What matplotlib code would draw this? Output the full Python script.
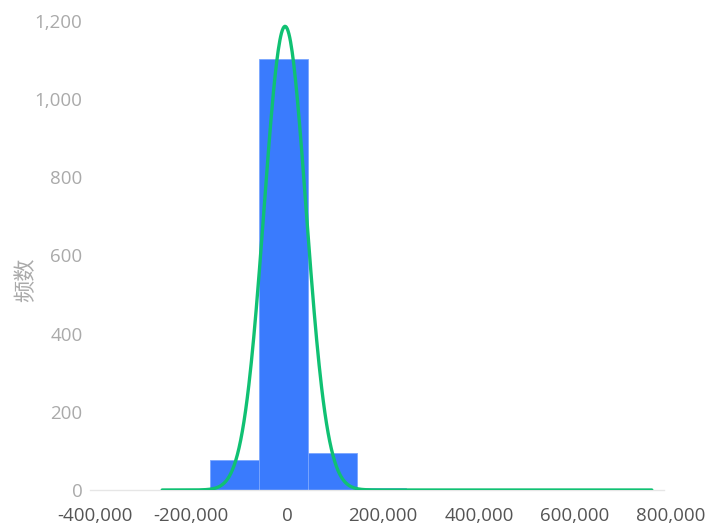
import numpy as np
import matplotlib.pyplot as plt

plt.rcParams['font.family'] = ['Open Sans', 'Noto Sans CJK SC', 'DejaVu Sans']

# Histogram bins (edges) and counts
bin_edges = [-160000, -58000, 44000, 146000, 248000]
counts = [76, 1103, 94, 4]

# Fitted normal curve parameters
mu = -4000
sigma = 43800
curve_start, curve_end = -260000, 760000

x_ticks = [-400000, -200000, 0, 200000, 400000, 600000, 800000]
y_ticks = [0, 200, 400, 600, 800, 1000, 1200]

fig = plt.figure(figsize=(7.05, 5.26), dpi=100)
ax = fig.add_axes([95/705, 36/526, 576/705, 469/526])

widths = np.diff(bin_edges)
ax.bar(bin_edges[:-1], counts, width=widths, align='edge', color='#3a7bfd',
       edgecolor='#7aa6ff', linewidth=0.6, zorder=2)

# Normal curve scaled to counts
n_total = sum(counts)
bw = np.mean(widths)
xs = np.linspace(curve_start, curve_end, 600)
ys = n_total * bw / (sigma * np.sqrt(2 * np.pi)) * np.exp(-0.5 * ((xs - mu) / sigma) ** 2)
ax.plot(xs, ys, color='#10c173', linewidth=2.4, zorder=3, solid_capstyle='round')

ax.set_xlim(-400000, 800000)
ax.set_ylim(0, 1200)
ax.set_xticks(x_ticks)
ax.set_xticklabels([f'{v:,}' for v in x_ticks])
ax.set_yticks(y_ticks)
ax.set_yticklabels([f'{v:,}' for v in y_ticks])

for s in ['top', 'right', 'left']:
    ax.spines[s].set_visible(False)
ax.spines['bottom'].set_color('#e6e6e6')
ax.spines['bottom'].set_linewidth(1)
ax.spines['bottom'].set_bounds(-410000, 785000)

ax.tick_params(axis='x', length=0, pad=12, labelsize=13.5, labelcolor='#555555')
ax.tick_params(axis='y', length=0, pad=9, labelsize=13.5, labelcolor='#aaaaaa')

ax.set_ylabel('频数', fontsize=16, color='#aaaaaa',
              family=['Noto Sans CJK SC', 'DejaVu Sans'])
ax.yaxis.set_label_coords(-0.10, 0.448)

fig.savefig('out.png', dpi=100, facecolor='white')
